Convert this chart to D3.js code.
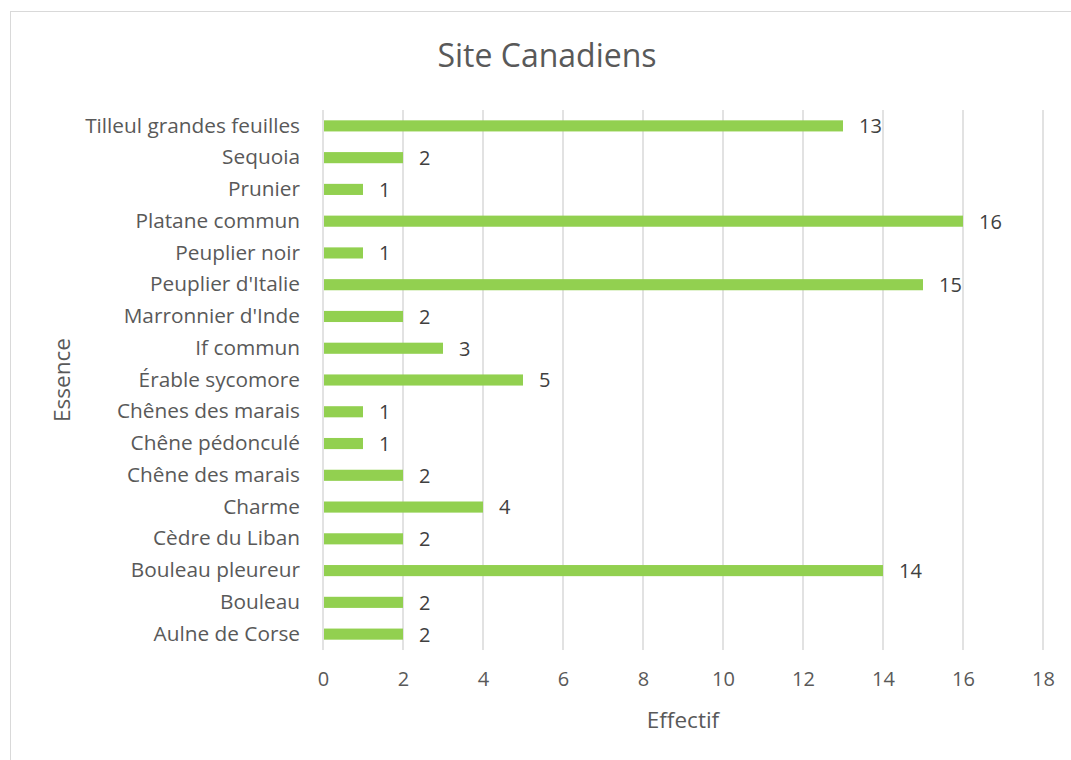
<!DOCTYPE html>
<html>
<head>
<meta charset="utf-8">
<script src="https://cdn.jsdelivr.net/npm/d3@7"></script>
<style>
  body { margin: 0; background: #fff; }
  svg text { font-family: "Open Sans", "Noto Sans", sans-serif; fill: #595959; }
</style>
</head>
<body>
<svg width="1071" height="760"></svg>
<script>
// data, top to bottom as shown
const essences = ['Tilleul grandes feuilles', 'Sequoia', 'Prunier', 'Platane commun', 'Peuplier noir',
  "Peuplier d'Italie", "Marronnier d'Inde", 'If commun', 'Érable sycomore', 'Chênes des marais',
  'Chêne pédonculé', 'Chêne des marais', 'Charme', 'Cèdre du Liban', 'Bouleau pleureur', 'Bouleau', 'Aulne de Corse'];
const effectifs = [13, 2, 1, 16, 1, 15, 2, 3, 5, 1, 1, 2, 4, 2, 14, 2, 2];
const xTicks = [0, 2, 4, 6, 8, 10, 12, 14, 16, 18];

const data = essences.map((e, i) => ({essence: e, value: effectifs[i]}));

var svg = d3.select('svg'),
    margin = {top: 110, right: 28, bottom: 110, left: 323},
    width = 1043 - margin.left,
    height = 650 - margin.top;

// chart frame
svg.append('rect')
  .attr('x', 10.5).attr('y', 11.5)
  .attr('width', 1100).attr('height', 800)
  .attr('fill', 'none').attr('stroke', '#d9d9d9');

var g = svg.append('g').attr('transform', `translate(${margin.left}, ${margin.top})`);

var x = d3.scaleLinear().domain([0, 18]).range([0, width]);
var y = d3.scaleBand().domain(essences).range([0, height]).paddingInner(0.65).paddingOuter(0.325);

// gridlines
g.append('g')
  .selectAll('line')
  .data(xTicks)
  .join('line')
  .attr('x1', d => x(d)).attr('x2', d => x(d))
  .attr('y1', 0).attr('y2', height)
  .attr('stroke', '#d9d9d9').attr('stroke-width', 1.5);

// bars
g.append('g')
  .selectAll('rect')
  .data(data)
  .join('rect')
  .attr('x', x(0) + 1)
  .attr('y', d => y(d.essence))
  .attr('width', d => x(d.value) - x(0) - 1)
  .attr('height', y.bandwidth())
  .attr('fill', '#92d050');

// value labels
g.append('g')
  .selectAll('text')
  .data(data)
  .join('text')
  .attr('x', d => x(d.value) + 16)
  .attr('y', d => y(d.essence) + y.bandwidth() / 2)
  .attr('dy', '0.37em')
  .attr('font-size', 20)
  .style('fill', '#404040')
  .text(d => d.value);

// x axis
var xAxis = g.append('g')
  .attr('transform', `translate(0,${height})`)
  .call(d3.axisBottom(x).tickValues(xTicks).tickSize(0).tickPadding(22));
xAxis.select('.domain').remove();
xAxis.selectAll('text').attr('font-size', 20).style('fill', '#595959');

// y axis
var yAxis = g.append('g')
  .call(d3.axisLeft(y).tickSize(0).tickPadding(23));
yAxis.select('.domain').remove();
yAxis.selectAll('text').attr('font-size', 20.8).style('fill', '#595959');

// title
svg.append('text')
  .attr('x', 547).attr('y', 56)
  .attr('dy', '0.35em')
  .attr('text-anchor', 'middle')
  .attr('font-size', 32)
  .text('Site Canadiens');

// axis titles
svg.append('text')
  .attr('x', 683).attr('y', 720)
  .attr('dy', '0.35em')
  .attr('text-anchor', 'middle')
  .attr('font-size', 22.5)
  .text('Effectif');

svg.append('text')
  .attr('transform', 'translate(62,380) rotate(-90)')
  .attr('dy', '0.35em')
  .attr('text-anchor', 'middle')
  .attr('font-size', 22.5)
  .text('Essence');
</script>
</body>
</html>
